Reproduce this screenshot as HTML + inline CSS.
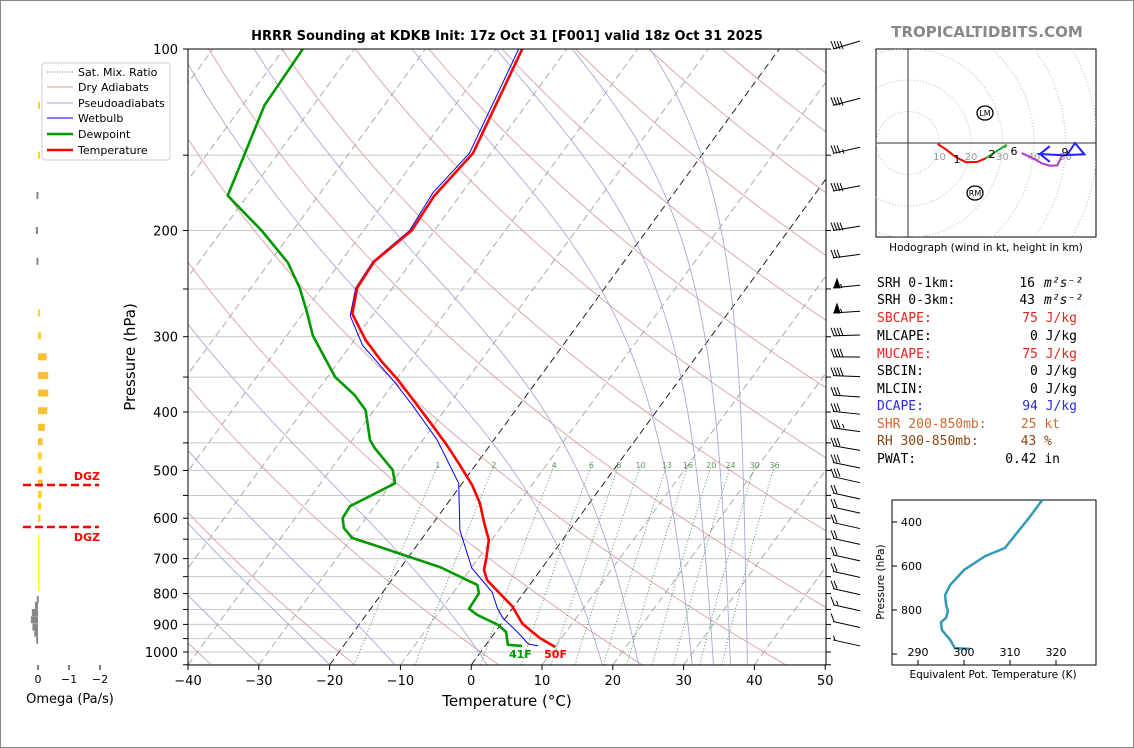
<!DOCTYPE html>
<html><head><meta charset="utf-8"><style>
html,body{margin:0;padding:0;background:#fff}
svg{display:block;font-family:"DejaVu Sans","Liberation Sans",sans-serif}
.mono{font-family:"DejaVu Sans Mono","Liberation Mono",monospace;font-size:13px}
</style></head><body>
<svg id="c" width="1134" height="748" viewBox="0 0 1134 748" xmlns="http://www.w3.org/2000/svg">
<defs><clipPath id="mc"><rect x="188" y="49" width="638" height="616"/></clipPath>
<clipPath id="hc"><rect x="876" y="49" width="220" height="188"/></clipPath></defs>
<rect x="0.5" y="0.5" width="1133" height="747" fill="#fff" stroke="#888"/>
<text x="507" y="40" font-size="13" font-weight="bold" text-anchor="middle">HRRR Sounding at KDKB Init: 17z Oct 31 [F001] valid 18z Oct 31 2025</text>
<text x="987" y="37" font-size="15" font-weight="bold" fill="#888" text-anchor="middle">TROPICALTIDBITS.COM</text>
<g id="bg" clip-path="url(#mc)"></g>
<g id="series" clip-path="url(#mc)"></g>
<g id="axes"></g>
<g id="barbs"></g>
<g id="omega"></g>
<g id="hodo"></g>
<g id="thetae"></g>
<g>
<rect x="42" y="63" width="128" height="97" rx="3" fill="#fff" stroke="#ccc"/>
<line x1="47" y1="72" x2="73" y2="72" stroke="#5a9a5a" stroke-dasharray="1,1.5"/><text x="78" y="76" font-size="11">Sat. Mix. Ratio</text>
<line x1="47" y1="87" x2="73" y2="87" stroke="#d9a0a0"/><text x="78" y="91" font-size="11">Dry Adiabats</text>
<line x1="47" y1="103" x2="73" y2="103" stroke="#a0a0d8"/><text x="78" y="107" font-size="11">Pseudoadiabats</text>
<line x1="47" y1="118" x2="73" y2="118" stroke="#00f"/><text x="78" y="122" font-size="11">Wetbulb</text>
<line x1="47" y1="134" x2="73" y2="134" stroke="#090" stroke-width="2.5"/><text x="78" y="138" font-size="11">Dewpoint</text>
<line x1="47" y1="150" x2="73" y2="150" stroke="red" stroke-width="2.5"/><text x="78" y="154" font-size="11">Temperature</text>
</g>
<g class="mono">
<text x="877" y="287">SRH 0-1km:</text><text x="1035" y="287" text-anchor="end">16</text><text x="1044" y="287" font-style="italic">m²s⁻²</text>
<text x="877" y="304">SRH 0-3km:</text><text x="1035" y="304" text-anchor="end">43</text><text x="1044" y="304" font-style="italic">m²s⁻²</text>
<text x="877" y="322" fill="#e3261d">SBCAPE:</text><text x="1077" y="322" text-anchor="end" fill="#e3261d">75 J/kg</text>
<text x="877" y="340">MLCAPE:</text><text x="1077" y="340" text-anchor="end">0 J/kg</text>
<text x="877" y="358" fill="#e3261d">MUCAPE:</text><text x="1077" y="358" text-anchor="end" fill="#e3261d">75 J/kg</text>
<text x="877" y="375">SBCIN:</text><text x="1077" y="375" text-anchor="end">0 J/kg</text>
<text x="877" y="393">MLCIN:</text><text x="1077" y="393" text-anchor="end">0 J/kg</text>
<text x="877" y="410" fill="#2b2be0">DCAPE:</text><text x="1077" y="410" text-anchor="end" fill="#2b2be0">94 J/kg</text>
<text x="877" y="428" fill="#d2692a">SHR 200-850mb:</text><text x="1060" y="428" text-anchor="end" fill="#d2692a">25 kt</text>
<text x="877" y="445" fill="#8b4513">RH 300-850mb:</text><text x="1052" y="445" text-anchor="end" fill="#8b4513">43 %</text>
<text x="877" y="463">PWAT:</text><text x="1060" y="463" text-anchor="end">0.42 in</text>
</g>
<script>
// ---- data ----
const tempP=[981,948,898,839,799,760,731,698,652,611,566,529,490,454,420,387,354,330,304,275,249,225,200,175,149,100];
const tempT=[10.0,6.9,3.0,-0.3,-3.4,-6.5,-8.0,-8.9,-10.4,-12.8,-15.5,-18.4,-22.2,-26.1,-30.3,-34.8,-39.7,-43.9,-48.4,-53.0,-55.0,-55.3,-53.2,-53.6,-52.5,-56.3];
const dewP=[977,973,926,902,868,848,799,774,723,670,647,623,600,573,525,499,459,445,397,375,350,299,273,249,226,200,175,124,100];
const dewT=[5.2,3.1,1.5,-0.3,-4.3,-6.1,-6.3,-7.4,-14.5,-25.0,-29.9,-32.1,-33.3,-33.5,-29.5,-31.2,-36.0,-37.5,-41.2,-44.3,-48.9,-56.3,-59.6,-63.1,-67.4,-74.4,-82.8,-86.9,-87.3];
const wbP=[977,970,926,878,845,795,726,628,525,445,389,358,310,277,249,225,200,173,149,100];
const wbT=[7.5,5.9,3.1,-0.4,-2.2,-4.6,-9.9,-15.5,-20.5,-28.0,-35.2,-39.8,-48.3,-53.1,-55.2,-55.5,-53.5,-54.1,-53.0,-56.8];
const omegaP=[124,150,175,200,225,274,299,324,348,372,398,424,448,473,499,525,548,573,600,650,675,700,725,750,775,818,837,860,884,909,931,956];
const omegaV=[-0.05,-0.05,0.05,0.07,0.05,-0.07,-0.1,-0.28,-0.33,-0.33,-0.3,-0.22,-0.15,-0.12,-0.13,-0.15,-0.12,-0.1,-0.08,-0.02,-0.02,-0.02,-0.02,-0.02,-0.02,0.04,0.1,0.2,0.23,0.18,0.12,0.06];
const thetaP=[300,377,518,555,618,686,732,777,805,836,855,891,936,973,977];
const thetaV=[317,314.3,308.9,304.6,300,297,295.9,296.1,296.5,296.1,295,295.2,297,298,301.3];
const barbP=[100,124,149,172,200,222,249,274,299,324,348,375,399,425,455,485,512,545,575,610,648,690,735,785,835,890,955];
const barbKt=[40,40,35,40,40,30,55,55,40,40,40,30,30,35,30,30,30,20,20,20,20,20,20,20,15,10,5];
const hodoRed=[[9.4,-0.3],[12,-2],[15.2,-4.5],[18.4,-6.1],[22,-6],[24.8,-4.8]];
const hodoGreen=[[24.8,-4.8],[27.5,-3],[31.3,-0.6],[30.5,-1.5]];
const hodoMag=[[36.1,-3.2],[39,-4.5],[42.6,-6.5],[45,-7.2],[47.4,-7.1],[49,-3.9]];
const hodoBlue=[[49,-3.9],[41.9,-3.5],[45,-1],[41.9,-3.5],[45,-6],[41.9,-3.5],[49,-3.9],[56,-3.6],[53,0],[50.5,-3.8]];
const xTicks=[-40,-30,-20,-10,0,10,20,30,40,50];
const pTicks=[100,200,300,400,500,600,700,800,900,1000];
const mixW=[1,2,4,6,8,10,13,16,20,24,30,36];
const moistT0=[-50,-40,-30,-20,-10.8,2.2,18.5,23.6,31.2,34.2,36.6,39];

// ---- helpers ----
const NS="http://www.w3.org/2000/svg";
function mk(parent,tag,attrs,txt){const e=document.createElementNS(NS,tag);for(const k in attrs)e.setAttribute(k,attrs[k]);if(txt!==undefined)e.textContent=txt;parent.appendChild(e);return e;}
const py=p=>49+603*Math.log10(p/100);
const px=(T,p)=>188+(T+40)*7.08+0.73*(665-py(p));
function pathFrom(ps,ts){return ps.map((p,i)=>(i?'L':'M')+px(ts[i],p).toFixed(1)+','+py(p).toFixed(1)).join('');}
const bg=document.getElementById('bg');
for(let p=100;p<=1050;p+=50){const l=mk(bg,'line',{x1:188,x2:826,y1:py(p),y2:py(p),stroke:'#c8c8c8','stroke-width':1});

}
for(let T=-120;T<=50;T+=10){const blk=(T===0||T===-20);const l=mk(bg,'line',{x1:px(T,1050),y1:py(1050),x2:px(T,100),y2:py(100),stroke:blk?'#222':'#aaa','stroke-dasharray':'7,4','stroke-width':1});

}
for(let k=-4;k<=12;k++){const th=273.15+20*k;let d='';for(let p=1050;p>=100;p-=10){const T=th*Math.pow(p/1000,0.2857)-273.15;d+=(d?'L':'M')+px(T,p).toFixed(1)+','+py(p).toFixed(1);}
const l=mk(bg,'path',{d:d,fill:'none',stroke:'#d9a0a0','stroke-width':0.9});

}
function es(Tc){return 6.112*Math.exp(17.67*Tc/(Tc+243.5));}
moistT0.forEach(T0=>{let T=T0+273.15;let d='';for(let p=1050;p>=100;p-=5){
 d+=(d?'L':'M')+px(T-273.15,p).toFixed(1)+','+py(p).toFixed(1);
 const rs=0.622*es(T-273.15)/(p-es(T-273.15));const Lv=2.5e6,Rd=287,cp=1004;
 const dTdp=(1/p)*(Rd*T+Lv*rs)/(cp+Lv*Lv*rs*0.622/(Rd*T*T));T-=dTdp*5;}
 const l=mk(bg,'path',{d:d,fill:'none',stroke:'#a8a8dc','stroke-width':0.9});
 
 });
mixW.forEach(w=>{let d='';let lx=0;for(let p=1050;p>=490;p-=10){const e=w*p/(622+w);const a=Math.log(e/6.112);const Td=243.5*a/(17.67-a);
 d+=(d?'L':'M')+px(Td,p).toFixed(1)+','+py(p).toFixed(1);lx=px(Td,p);}
 const l=mk(bg,'path',{d:d,fill:'none',stroke:'#5a9a5a','stroke-width':0.9,'stroke-dasharray':'1.2,2'});
 
 
 const t=mk(bg,'text',{x:lx,y:468,'font-size':8,fill:'#5a9a5a','text-anchor':'middle'},String(w));
 
 });
const sg=document.getElementById('series');
let s=mk(sg,'path',{d:pathFrom(wbP,wbT),fill:'none',stroke:'#00f','stroke-width':1});


s=mk(sg,'path',{d:pathFrom(dewP,dewT),fill:'none',stroke:'#090','stroke-width':2.6,'stroke-linejoin':'round'});


s=mk(sg,'path',{d:pathFrom(tempP,tempT),fill:'none',stroke:'red','stroke-width':2.6,'stroke-linejoin':'round'});


let t=mk(sg,'text',{x:px(dewT[0],dewP[0])-13,y:658,'font-size':11,'font-weight':'bold',fill:'#090'},'41F');


t=mk(sg,'text',{x:px(tempT[0],tempP[0])-11,y:658,'font-size':11,'font-weight':'bold',fill:'red'},'50F');


const ax=document.getElementById('axes');
mk(ax,'rect',{x:188,y:49,width:638,height:616,fill:'none',stroke:'#000','stroke-width':1});
xTicks.forEach(v=>{const x=188+(v+40)*7.08;mk(ax,'line',{x1:x,x2:x,y1:665,y2:670,stroke:'#000'});
 const tt=mk(ax,'text',{x:x,y:685,'font-size':13,'text-anchor':'middle'},String(v).replace('-','−'));
 
 });
for(let p=100;p<=1050;p+=50){mk(ax,'line',{x1:183,x2:188,y1:py(p),y2:py(p),stroke:'#000'});mk(ax,'line',{x1:826,x2:831,y1:py(p),y2:py(p),stroke:'#000'});}
pTicks.forEach(p=>{const tt=mk(ax,'text',{x:178,y:py(p)+5,'font-size':13,'text-anchor':'end'},String(p));
 
 });
t=mk(ax,'text',{x:507,y:706,'font-size':15,'text-anchor':'middle'},'Temperature (°C)');


t=mk(ax,'text',{x:135,y:357,'font-size':15,'text-anchor':'middle',transform:'rotate(-90 135 357)'},'Pressure (hPa)');


const bb=document.getElementById('barbs');
barbP.forEach((p,i)=>{const y=py(p);const g=mk(bb,'g',{stroke:'#000','stroke-width':1,fill:'none'});
 
 
 const dy=Math.max(-8,Math.min(6,-8+i*0.9));
 mk(g,'line',{x1:833,y1:y,x2:860,y2:y+dy});
 let k=barbKt[i];let xo=834;
 while(k>=50){mk(g,'path',{d:`M${xo},${y}L${xo+3},${y-9}L${xo+6},${y}Z`,fill:'#000'});xo+=7;k-=50;}
 while(k>=10){mk(g,'line',{x1:xo,y1:y,x2:xo-3,y2:y-8});xo+=3;k-=10;}
 if(k>=5){mk(g,'line',{x1:xo+1,y1:y,x2:xo-0.5,y2:y-4});}});
const om=document.getElementById('omega');
const ox=w=>38-w*31;
omegaP.forEach((p,i)=>{const v=omegaV[i];const x0=ox(0),x1=ox(v);const thin=Math.abs(v)<0.03;
 const col=v>0?'#888':(Math.abs(v)>0.14?'#fbc02d':'#ffd31a');
 const r=mk(om,'rect',{x:Math.min(x0,x1),y:py(p)-(thin?5:3.5),width:Math.max(thin?1:2,Math.abs(x1-x0)),height:thin?10:7,fill:thin&&v<0?'#ffee00':col});
 
 });
[0,-1,-2].forEach(v=>{mk(om,'line',{x1:ox(v),x2:ox(v),y1:665,y2:670,stroke:'#000'});mk(om,'text',{x:ox(v),y:683,'font-size':11,'text-anchor':'middle'},String(v).replace('-','−'));});
t=mk(om,'text',{x:70,y:703,'font-size':13,'text-anchor':'middle'},'Omega (Pa/s)');


[485,527].forEach((y,i)=>{const l=mk(om,'line',{x1:23,x2:99,y1:y,y2:y,stroke:'red','stroke-width':2.5,'stroke-dasharray':'8,4'});
 
 
 mk(om,'text',{x:100,y:i?541:480,'font-size':11,'font-weight':'bold',fill:'red','text-anchor':'end'},'DGZ');});
const hg=document.getElementById('hodo');
mk(hg,'rect',{x:876,y:49,width:220,height:188,fill:'#fff',stroke:'#000'});
const hin=mk(hg,'g',{'clip-path':'url(#hc)'});
const O=[908,143],S=3.15;
for(let r=10;r<=80;r+=10)mk(hin,'circle',{cx:O[0],cy:O[1],r:r*S,fill:'none',stroke:'#bbb','stroke-dasharray':'1,2'});
mk(hin,'line',{x1:876,x2:1096,y1:O[1],y2:O[1],stroke:'#333'});mk(hin,'line',{x1:O[0],x2:O[0],y1:49,y2:237,stroke:'#333'});
[10,20,30,40,50].forEach(r=>mk(hin,'text',{x:O[0]+r*S,y:160,'font-size':10,fill:'#999','text-anchor':'middle'},String(r)));
const hp=a=>a.map((q,i)=>(i?'L':'M')+(O[0]+q[0]*S).toFixed(1)+','+(O[1]-q[1]*S).toFixed(1)).join('');
[[hodoRed,'red','hodo-0-1km'],[hodoGreen,'#2a2','hodo-1-3km'],[hodoMag,'#b03ac8','hodo-3-6km'],[hodoBlue,'#22f','hodo-6-9km']].forEach(s=>{
 const l=mk(hin,'path',{d:hp(s[0]),fill:'none',stroke:s[1],'stroke-width':2});
 
 });
[['1',957,163],['2',992,158],['6',1014,155],['9',1065,156]].forEach(a=>mk(hin,'text',{x:a[1],y:a[2],'font-size':11,'text-anchor':'middle'},a[0]));
mk(hin,'ellipse',{cx:985,cy:113,rx:8,ry:7,fill:'none',stroke:'#000','stroke-width':1.3});mk(hin,'text',{x:985,y:116,'font-size':8,'text-anchor':'middle'},'LM');
mk(hin,'ellipse',{cx:975,cy:193,rx:8,ry:7,fill:'none',stroke:'#000','stroke-width':1.3});mk(hin,'text',{x:975,y:196,'font-size':8,'text-anchor':'middle'},'RM');
mk(hg,'text',{x:986,y:251,'font-size':10.5,'text-anchor':'middle'},'Hodograph (wind in kt, height in km)');
const te=document.getElementById('thetae');
mk(te,'rect',{x:892,y:500,width:204,height:165,fill:'#fff',stroke:'#000'});
const tx=v=>918+(v-290)*4.6, ty=p=>522+(p-400)*0.22;
const tp=thetaP.map((p,i)=>(i?'L':'M')+tx(thetaV[i]).toFixed(1)+','+ty(p).toFixed(1)).join('');
s=mk(te,'path',{d:tp,fill:'none',stroke:'#3399b5','stroke-width':2.5});


[400,600,800,1000].forEach(p=>{mk(te,'line',{x1:892,x2:897,y1:ty(p),y2:ty(p),stroke:'#000'});if(p<1000)mk(te,'text',{x:901,y:ty(p)+4,'font-size':11},String(p));});
[290,300,310,320].forEach(v=>{mk(te,'line',{x1:tx(v),x2:tx(v),y1:660,y2:665,stroke:'#000'});mk(te,'text',{x:tx(v),y:656,'font-size':11,'text-anchor':'middle'},String(v));});
mk(te,'text',{x:993,y:678,'font-size':10.5,'text-anchor':'middle'},'Equivalent Pot. Temperature (K)');
mk(te,'text',{x:884,y:582,'font-size':10.5,'text-anchor':'middle',transform:'rotate(-90 884 582)'},'Pressure (hPa)');
</script>
</svg>
</body></html>
